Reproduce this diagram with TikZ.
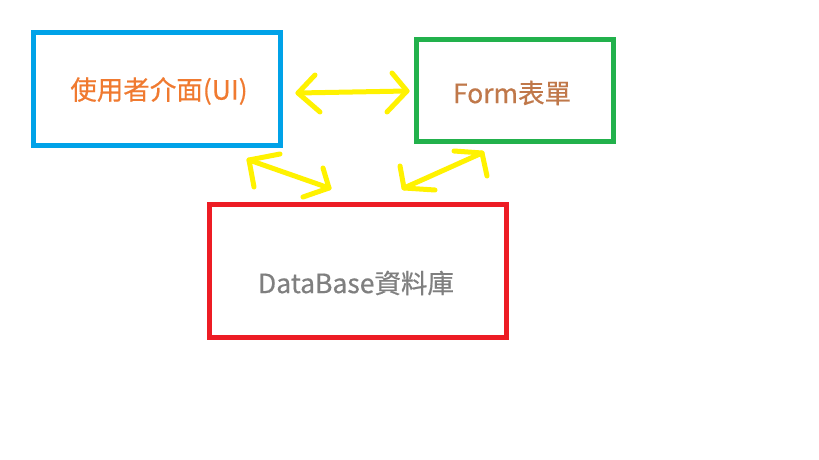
\documentclass[tikz,border=0pt]{standalone}
\usepackage{fontspec}
\setmainfont{Noto Sans CJK TC}
\newfontfamily\lblfont{Noto Sans CJK TC}[FakeBold=0.5]
\definecolor{pblue}{HTML}{00A2E8}
\definecolor{pgreen}{HTML}{22B14C}
\definecolor{pred}{HTML}{ED1C24}
\definecolor{pyellow}{HTML}{FFF200}
\definecolor{uitext}{HTML}{F07A30}
\definecolor{formtext}{HTML}{C0784A}
\definecolor{dbtext}{HTML}{7F7F7F}
\begin{document}
\begin{tikzpicture}[x=1pt,y=-1pt,
  box/.style={draw,line width=5pt,minimum width=#1,inner sep=0pt},
  lbl/.style={font=\lblfont\fontsize{26.5}{30}\selectfont,inner sep=0pt},
  yarrow/.style={draw=pyellow,line width=5pt,line cap=round,line join=round}]
\useasboundingbox (0,0) rectangle (819,460);
\fill[white] (0,0) rectangle (819,460);
% boxes
\node[box=247pt,draw=pblue,minimum height=112pt] (ui) at (156.5,89) {};
\node[box=197pt,draw=pgreen,minimum height=102pt] (form) at (515,90.5) {};
\node[box=297pt,draw=pred,minimum height=133pt] (db) at (358,271) {};
% labels
\node[lbl,text=uitext] (uil) at (159,91) {使用者介面(UI)};
\node[lbl,text=formtext] (forml) at (512,93) {Form表單};
\node[lbl,text=dbtext] (dbl) at (356,283) {DataBase資料庫};
% arrow UI <-> Form
\coordinate (a1s) at (298,93);
\coordinate (a1e) at (407,91);
\coordinate (a1l1) at (315,75);
\coordinate (a1l2) at (320,112);
\coordinate (a1r1) at (392,73);
\coordinate (a1r2) at (387,112);
\draw[yarrow] (a1s) -- (a1e);
\draw[yarrow] (a1l1) -- (a1s) -- (a1l2);
\draw[yarrow] (a1r1) -- (a1e) -- (a1r2);
% arrow UI <-> DB
\coordinate (a2s) at (249,160);
\coordinate (a2e) at (329,188);
\coordinate (a2l1) at (280,154);
\coordinate (a2l2) at (254,187);
\coordinate (a2r1) at (323,168);
\coordinate (a2r2) at (303,197);
\draw[yarrow] (a2s) -- (a2e);
\draw[yarrow] (a2l1) -- (a2s) -- (a2l2);
\draw[yarrow] (a2r1) -- (a2e) -- (a2r2);
% arrow DB <-> Form
\coordinate (a3s) at (404,188);
\coordinate (a3e) at (482,153);
\coordinate (a3l1) at (400,166);
\coordinate (a3l2) at (435,190);
\coordinate (a3r1) at (454,151);
\coordinate (a3r2) at (487,176);
\draw[yarrow] (a3s) -- (a3e);
\draw[yarrow] (a3l1) -- (a3s) -- (a3l2);
\draw[yarrow] (a3r1) -- (a3e) -- (a3r2);
\end{tikzpicture}
\end{document}
